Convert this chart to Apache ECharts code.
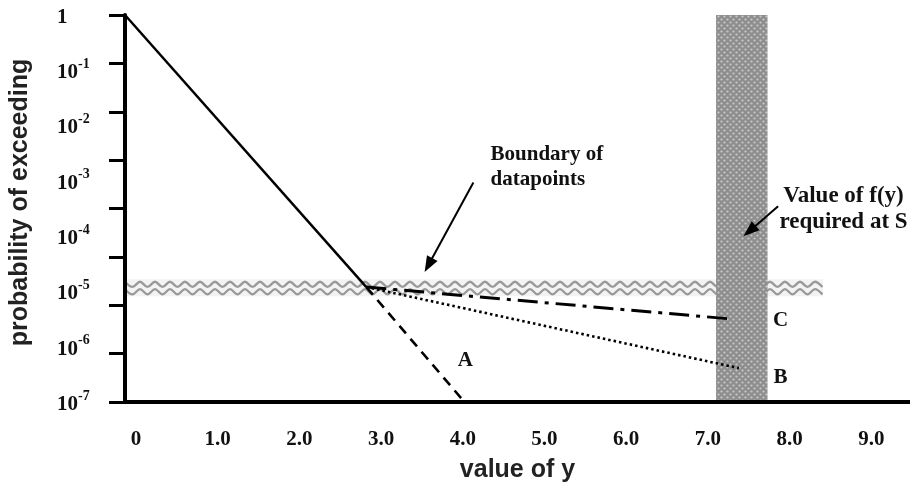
<!DOCTYPE html>
<html>
<head>
<meta charset="utf-8">
<script src="https://cdn.jsdelivr.net/npm/echarts@6/dist/echarts.min.js"></script>
<style>
  html, body { margin: 0; padding: 0; background: #fff; }
  #main { width: 910px; height: 493px; }
</style>
</head>
<body>
<div id="main"></div>
<script>
// axis ticks
const xTicks = [0, 1, 2, 3, 4, 5, 6, 7, 8, 9];
const xRange = [-0.134, 9.474];
const yRange = [1e-7, 1];

// curves as [value of y, probability of exceeding]
const mainLine = [[-0.134, 1], [2.82, 1.2e-5]];
const lineA = [[2.82, 1.2e-5], [4.02, 1e-7]];
const lineB = [[2.82, 1.2e-5], [7.38, 4.1e-7]];
const lineC = [[2.82, 1.2e-5], [7.31, 3.15e-6]];

// wavy "boundary of datapoints" band: [x from, x to, p low, p high]
const boundaryBand = [[-0.134, 8.41, 8.2e-6, 1.66e-5]];
// shaded "required at S" column: [x from, x to, p low, p high]
const requiredCol = [[7.10, 7.73, 1e-7, 1]];

// arrows: [tail, head]
const arrows = [
  [[4.13, 9.3e-4], [3.58, 3.0e-5]],
  [[7.86, 3.46e-4], [7.51, 1.24e-4]]
];

// text notes
const notes = [
  { text: 'Boundary of\ndatapoints', at: [4.34, 5e-3], align: 'left', valign: 'top', size: 21, lh: 25 },
  { text: 'Value of f(y)\nrequired at S', at: [8.66, 9.3e-4], align: 'center', valign: 'top', size: 23, lh: 26 },
  { text: 'A', at: [4.03, 5.5e-7], align: 'center', valign: 'middle', size: 21, lh: 24 },
  { text: 'B', at: [7.89, 2.8e-7], align: 'center', valign: 'middle', size: 21, lh: 24 },
  { text: 'C', at: [7.89, 3.0e-6], align: 'center', valign: 'middle', size: 21, lh: 24 }
];

const serif = 'Liberation Serif';
const sans = 'Liberation Sans';

function dotPattern() {
  const c = document.createElement('canvas');
  c.width = 6; c.height = 6;
  const g = c.getContext('2d');
  g.fillStyle = '#8e8e8e';
  g.fillRect(0, 0, 6, 6);
  g.fillStyle = '#cacaca';
  [[1.5, 1.5], [4.5, 4.5]].forEach(([x, y]) => {
    g.beginPath();
    g.arc(x, y, 1.1, 0, Math.PI * 2);
    g.fill();
  });
  return c;
}
const dots = dotPattern();

function boxOf(api) {
  const a = api.coord([api.value(0), api.value(3)]);
  const b = api.coord([api.value(1), api.value(2)]);
  return { x: a[0], y: a[1], width: b[0] - a[0], height: b[1] - a[1] };
}

function renderBand(params, api) {
  const r = boxOf(api);
  const children = [{ type: 'rect', shape: r, style: { fill: '#f3f3f3' } }];
  [0.3, 0.74].forEach(f => {
    const cy = r.y + r.height * f;
    const pts = [];
    for (let x = r.x, i = 0; x <= r.x + r.width; x += 7.5, i++) {
      pts.push([x, cy + (i % 2 ? 2.6 : -2.6)]);
    }
    children.push({
      type: 'polyline',
      shape: { points: pts, smooth: 0.35 },
      style: { stroke: '#999', lineWidth: 2.3, fill: null }
    });
  });
  return { type: 'group', children };
}

function renderColumn(params, api) {
  return { type: 'rect', shape: boxOf(api), style: { fill: { image: dots, repeat: 'repeat' } } };
}

const chart = echarts.init(document.getElementById('main'));

const option = {
  animation: false,
  backgroundColor: '#fff',
  grid: { left: 124, right: 0, top: 15, bottom: 91 },
  xAxis: {
    type: 'value',
    min: xRange[0],
    max: xRange[1],
    z: 10,
    name: 'value of y',
    nameLocation: 'middle',
    nameGap: 56,
    nameTextStyle: { fontFamily: sans, fontWeight: 'bold', fontSize: 25, color: '#222' },
    axisLine: { onZero: false, lineStyle: { color: '#000', width: 4 } },
    axisTick: { show: false },
    splitLine: { show: false },
    axisLabel: {
      customValues: xTicks,
      margin: 27,
      fontFamily: serif,
      fontWeight: 'bold',
      fontSize: 21,
      color: '#111',
      formatter: v => (v === 0 ? '0' : v.toFixed(1))
    }
  },
  yAxis: [
    {
      type: 'log',
      logBase: 10,
      min: yRange[0],
      max: yRange[1],
      interval: 1,
      position: 'left',
      z: 10,
      name: 'probability of exceeding',
      nameLocation: 'middle',
      nameGap: 92,
      nameTextStyle: { fontFamily: sans, fontWeight: 'bold', fontSize: 25, color: '#222', padding: [0, 0, 0, 12] },
      axisLine: { onZero: false, lineStyle: { color: '#000', width: 4 } },
      axisTick: { show: false },
      splitLine: { show: false },
      axisLabel: {
        align: 'left',
        margin: 68,
        formatter: v => {
          const e = Math.round(Math.log10(v));
          return e === 0 ? '{b|1}' : '{b|10}{s|' + e + '}';
        },
        rich: {
          b: { fontFamily: serif, fontWeight: 'bold', fontSize: 21, color: '#111', lineHeight: 26, verticalAlign: 'bottom' },
          s: { fontFamily: serif, fontWeight: 'bold', fontSize: 14, color: '#111', lineHeight: 14, verticalAlign: 'top' }
        }
      }
    },
    {
      // the tick marks of the original do not line up with its labels
      type: 'value',
      min: 0,
      max: 8,
      interval: 1,
      position: 'left',
      z: 10,
      axisLine: { show: false, onZero: false },
      axisTick: { length: 16, lineStyle: { color: '#000', width: 3 } },
      axisLabel: { show: false },
      splitLine: { show: false }
    }
  ],
  series: [
    {
      type: 'custom', name: 'boundary', z: 1, silent: true,
      encode: { x: [0, 1], y: [2, 3] },
      renderItem: renderBand,
      data: boundaryBand
    },
    {
      type: 'custom', name: 'required', z: 2, silent: true,
      encode: { x: [0, 1], y: [2, 3] },
      renderItem: renderColumn,
      data: requiredCol
    },
    {
      type: 'line', name: 'main', z: 4, symbol: 'none', data: mainLine,
      lineStyle: { color: '#000', width: 2.5, type: 'solid' }
    },
    {
      type: 'line', name: 'A', z: 4, symbol: 'none', data: lineA,
      lineStyle: { color: '#000', width: 2.6, type: [10, 7] }
    },
    {
      type: 'line', name: 'B', z: 4, symbol: 'none', data: lineB,
      lineStyle: { color: '#000', width: 2.6, type: [2.5, 3] }
    },
    {
      type: 'line', name: 'C', z: 4, symbol: 'none', data: lineC,
      lineStyle: { color: '#000', width: 3, type: [20, 7, 4, 7] }
    },
    {
      type: 'line', name: 'arrows', z: 5, data: [],
      markLine: {
        silent: true,
        symbol: ['none', 'triangle'],
        symbolSize: [12, 16],
        label: { show: false },
        lineStyle: { color: '#000', width: 2, type: 'solid' },
        data: arrows.map(([t, h]) => [{ coord: t }, { coord: h }])
      }
    }
  ]
};

chart.setOption(option);

chart.setOption({
  graphic: notes.map(n => {
    const p = chart.convertToPixel({ xAxisIndex: 0, yAxisIndex: 0 }, n.at);
    return {
      type: 'text',
      x: p[0],
      y: p[1],
      z: 20,
      style: {
        text: n.text,
        fontFamily: serif,
        fontWeight: 'bold',
        fontSize: n.size,
        lineHeight: n.lh,
        fill: '#111',
        align: n.align,
        verticalAlign: n.valign
      }
    };
  })
});
</script>
</body>
</html>
